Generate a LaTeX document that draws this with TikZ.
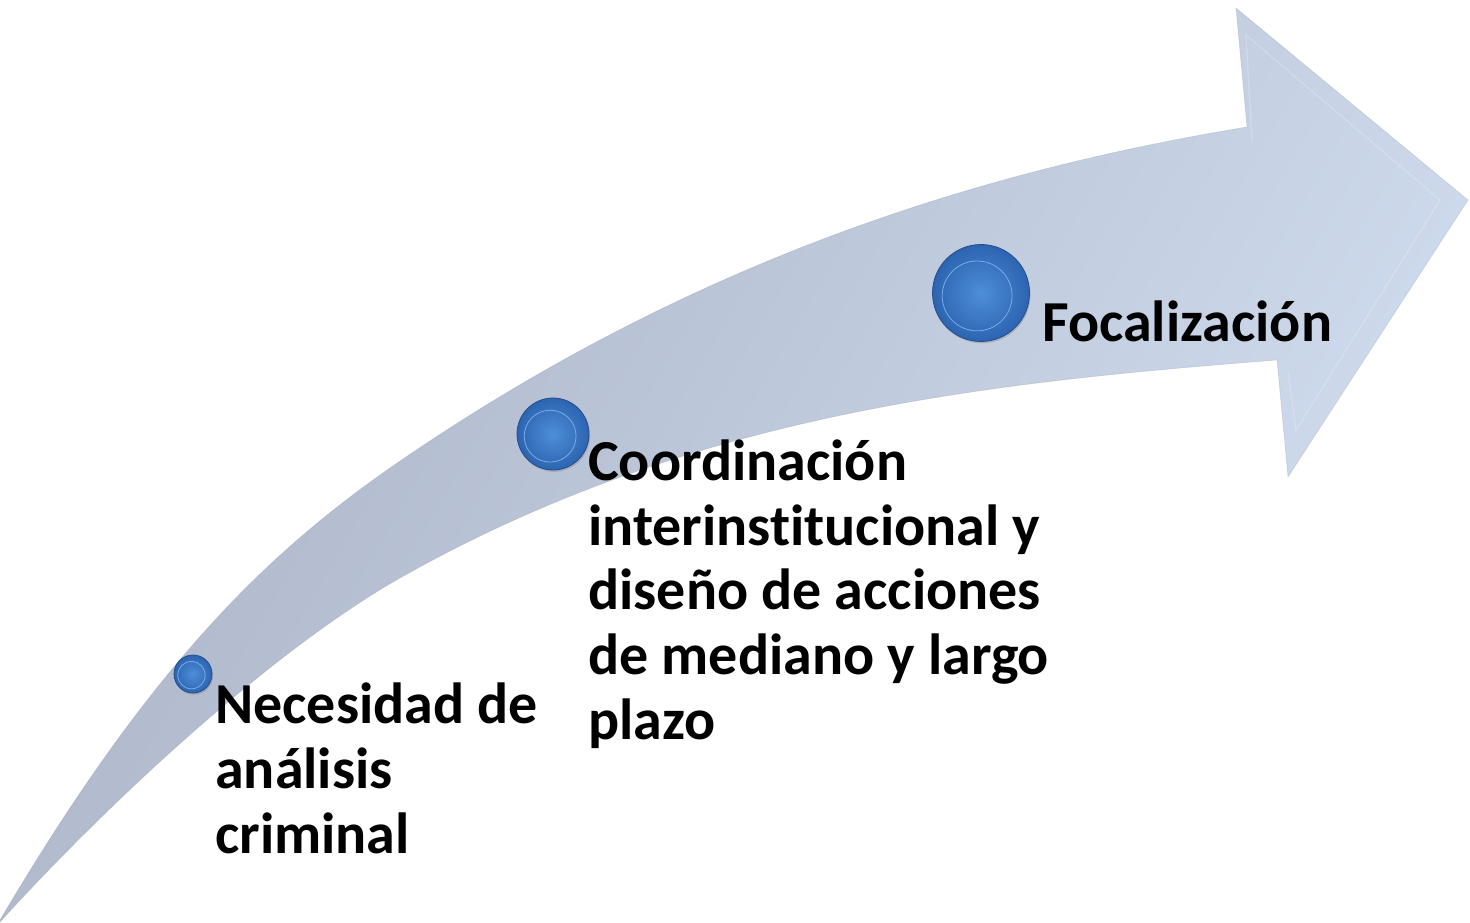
\documentclass[tikz,border=0pt]{standalone}
\usepackage{fontspec}
\setmainfont{Carlito}[Ligatures=NoCommon]
\usetikzlibrary{shadows}

\definecolor{tailgrey}{RGB}{172,180,199}
\definecolor{headblue}{RGB}{208,220,239}
\definecolor{ballout}{RGB}{44,100,176}
\definecolor{ballin}{RGB}{78,142,218}
\definecolor{ballhi}{RGB}{140,186,238}
\definecolor{balledge}{RGB}{36,78,140}

\tikzset{
  ball/.style={circle, inner sep=0pt, minimum size=0.75pt*#1,
    draw=balledge, line width=0.6pt, inner color=ballin, outer color=ballout,
    drop shadow={shadow xshift=0.8pt, shadow yshift=-1.4pt, opacity=0.35},
    path picture={
      \draw[ballhi, opacity=0.8, line width=0.6pt]
        ([shift={(-0.04*#1,-0.03*#1)}]path picture bounding box.center) circle[radius=0.36*#1];
    }},
  stagetext/.style={anchor=base west, align=left, inner sep=0pt,
    font=\fontsize{43.5}{48.4}\selectfont\bfseries}
}

\begin{document}
\begin{tikzpicture}[x=0.75pt,y=0.75pt,yscale=-1,xscale=1]
        \useasboundingbox (0,0) rectangle (1470,922);

        %Shape: Curved arrow
        \shade[left color=tailgrey, right color=headblue, shading angle=60,
               draw=tailgrey!80!black, draw opacity=0.25, line width=0.5pt]
          (0,920) .. controls (150,666) and (267,552) .. (400,461)
          .. controls (682,268) and (965,173) .. (1247,127)
          -- (1236,8) -- (1468,200) -- (1288,477) -- (1277,360)
          .. controls (985,383) and (692,413) .. (400,578)
          .. controls (280,646) and (120,790) .. (0,922) -- cycle;
        %Shape: bevel of the head
        \draw[white, opacity=0.2, line width=1pt]
          (1252,140) -- (1246,35) -- (1440,200) -- (1296,430) -- (1288,372);

        %Shape: Balls
        \node[ball=38] (b1) at (193,674) {};
        \node[ball=72] (b2) at (553,434) {};
        \node[ball=97] (b3) at (981,293) {};

        % Text Node (anchored at the baseline of the last line)
        \node[stagetext] (t1) at (215,853) {Necesidad de\\análisis\\criminal};
        % Text Node
        \node[stagetext] (t2) at (588,739) {Coordinación\\interinstitucional y\\diseño de acciones\\de mediano y largo\\plazo};
        % Text Node
        \node[stagetext] (t3) at (1042,341) {Focalización};

\end{tikzpicture}
\end{document}
